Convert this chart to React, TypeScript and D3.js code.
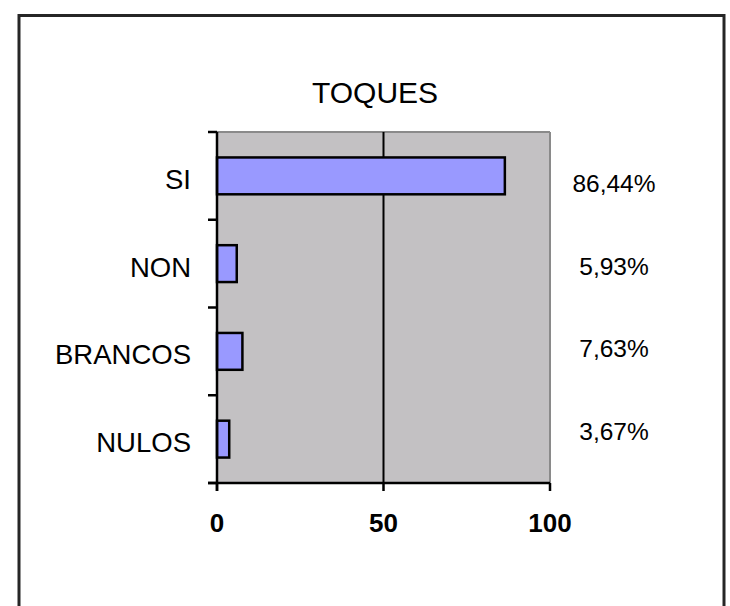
import React from "react";
import * as d3 from "d3";

const title = "TOQUES";
const categories = ["SI", "NON", "BRANCOS", "NULOS"];
const values = [86.44, 5.93, 7.63, 3.67];
const valueLabels = ["86,44%", "5,93%", "7,63%", "3,67%"];
const xTicks = [0, 50, 100];

const W = 730;
const H = 606;
const plot = { left: 217, right: 550, top: 132, bottom: 483 };

export default function App() {
  const x = d3.scaleLinear().domain([0, 100]).range([plot.left, plot.right]);
  const y = d3
    .scaleBand<string>()
    .domain(categories)
    .range([plot.top, plot.bottom])
    .paddingInner(0.58)
    .paddingOuter(0.29);
  const band = d3.scaleBand<string>().domain(categories).range([plot.top, plot.bottom]);
  const labelY = d3.scaleLinear().domain([0, categories.length - 1]).range([192, 440]);
  const font = "'Liberation Sans', Arial, Helvetica, sans-serif";
  const boundaries = categories.map((c) => band(c) as number).concat([plot.bottom]);

  return (
    <svg
      width={W}
      height={H}
      style={{ position: "absolute", left: 0, top: 0, background: "#fff" }}
      fontFamily={font}
    >
      <rect x={19} y={15.5} width={705} height={700} fill="#fff" stroke="#262626" strokeWidth={3} />
      <text x={375} y={103} textAnchor="middle" fontSize={30} fill="#000">
        {title}
      </text>
      <rect
        x={plot.left}
        y={plot.top}
        width={plot.right - plot.left}
        height={plot.bottom - plot.top}
        fill="#c3c1c3"
      />
      <line x1={plot.left} x2={plot.right} y1={plot.top} y2={plot.top} stroke="#8a8a8a" strokeWidth={2} />
      <line x1={plot.right} x2={plot.right} y1={plot.top} y2={plot.bottom} stroke="#8a8a8a" strokeWidth={2} />
      {xTicks
        .filter((t) => t > 0 && t < 100)
        .map((t) => (
          <line key={"g" + t} x1={x(t)} x2={x(t)} y1={plot.top} y2={plot.bottom} stroke="#000" strokeWidth={2} />
        ))}
      {categories.map((c, i) => (
        <rect
          key={c}
          x={x(0)}
          y={y(c)}
          width={x(values[i]) - x(0)}
          height={y.bandwidth()}
          fill="#9999ff"
          stroke="#000"
          strokeWidth={2.5}
        />
      ))}
      <line x1={plot.left} x2={plot.left} y1={plot.top} y2={plot.bottom + 8} stroke="#000" strokeWidth={2.5} />
      <line x1={plot.left - 9} x2={plot.right} y1={plot.bottom} y2={plot.bottom} stroke="#000" strokeWidth={2.5} />
      {boundaries.map((b, i) => (
        <line key={"yt" + i} x1={plot.left - 9} x2={plot.left} y1={b} y2={b} stroke="#000" strokeWidth={2.5} />
      ))}
      {xTicks.map((t) => (
        <g key={"xt" + t}>
          <line x1={x(t)} x2={x(t)} y1={plot.bottom} y2={plot.bottom + 8} stroke="#000" strokeWidth={2.5} />
          <text x={x(t)} y={532} textAnchor="middle" fontSize={26} fontWeight="bold" fill="#000">
            {t}
          </text>
        </g>
      ))}
      {categories.map((c) => (
        <text
          key={"l" + c}
          x={191}
          y={(band(c) as number) + band.bandwidth() / 2 + 13}
          textAnchor="end"
          fontSize={27.5}
          fill="#000"
        >
          {c}
        </text>
      ))}
      {valueLabels.map((v, i) => (
        <text key={"v" + i} x={614} y={labelY(i)} textAnchor="middle" fontSize={24.5} fill="#000">
          {v}
        </text>
      ))}
    </svg>
  );
}
